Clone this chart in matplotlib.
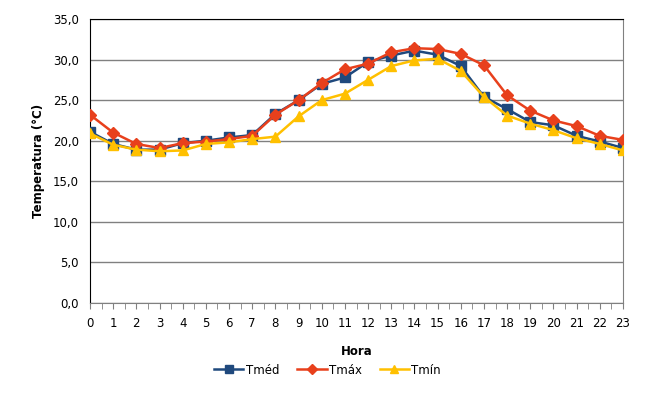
import matplotlib
matplotlib.use("Agg")
import matplotlib.pyplot as plt
import numpy as np

hours = list(range(24))
tmed = [21.1, 19.6, 18.9, 18.9, 19.7, 20.0, 20.4, 20.7, 23.3, 25.0, 27.0, 27.8,
        29.7, 30.5, 31.1, 30.6, 29.2, 25.4, 23.9, 22.3, 21.9, 20.6, 19.9, 19.1]
tmax = [23.2, 21.0, 19.6, 19.1, 19.7, 19.9, 20.2, 20.6, 23.2, 25.0, 27.1, 28.8,
        29.5, 30.9, 31.4, 31.3, 30.7, 29.3, 25.6, 23.7, 22.5, 21.8, 20.6, 20.1]
tmin = [20.9, 19.5, 18.9, 18.7, 18.8, 19.6, 19.8, 20.2, 20.5, 23.0, 25.0, 25.8,
        27.5, 29.2, 29.9, 30.1, 28.6, 25.4, 23.1, 22.1, 21.3, 20.3, 19.6, 18.8]
yticks = [0, 5, 10, 15, 20, 25, 30, 35]
ytick_labels = ["0,0", "5,0", "10,0", "15,0", "20,0", "25,0", "30,0", "35,0"]

plt.rcParams['font.family'] = ['DejaVu Sans']
fig = plt.figure(figsize=(6.55, 4.0), dpi=100)
ax = fig.add_axes([90/655, 1-303/400, 533/655, 284/400])

ax.plot(hours, tmed, color='#1F497D', marker='s', markersize=6.5, lw=1.8, label='Tméd', zorder=3)
ax.plot(hours, tmax, color='#E8401C', marker='D', markersize=6, lw=1.8, label='Tmáx', zorder=4)
ax.plot(hours, tmin, color='#FFC000', marker='^', markersize=7, lw=1.8, label='Tmín', zorder=5)

ax.set_xlim(0, 23)
ax.set_ylim(0, 35)
ax.set_yticks(yticks)
ax.set_yticklabels(ytick_labels)
ax.set_xticks(hours)
ax.set_xticks(np.arange(0.5, 23, 1), minor=True)
ax.tick_params(axis='x', which='both', direction='out', length=4, color='#808080', labelsize=8.5, pad=6)
ax.tick_params(axis='y', length=0, labelsize=8.5, pad=8)
ax.grid(axis='y', color='#808080', lw=1)
ax.set_axisbelow(True)
for s in ['left', 'top']:
    ax.spines[s].set_color('black')
ax.spines['bottom'].set_color('#808080')
ax.spines['right'].set_color('#808080')

ax.set_xlabel('Hora', fontweight='bold', fontsize=8.5, labelpad=11)
ax.set_ylabel('Temperatura (°C)', fontweight='bold', fontsize=8.5, labelpad=6)

leg = fig.legend(loc='center', bbox_to_anchor=(0.5, 1-370/400), ncol=3, frameon=False,
                 fontsize=8.5, handlelength=2.5, columnspacing=1.5, handletextpad=0.2,
                 markerscale=0.8)

fig.savefig('out.png', dpi=100)
